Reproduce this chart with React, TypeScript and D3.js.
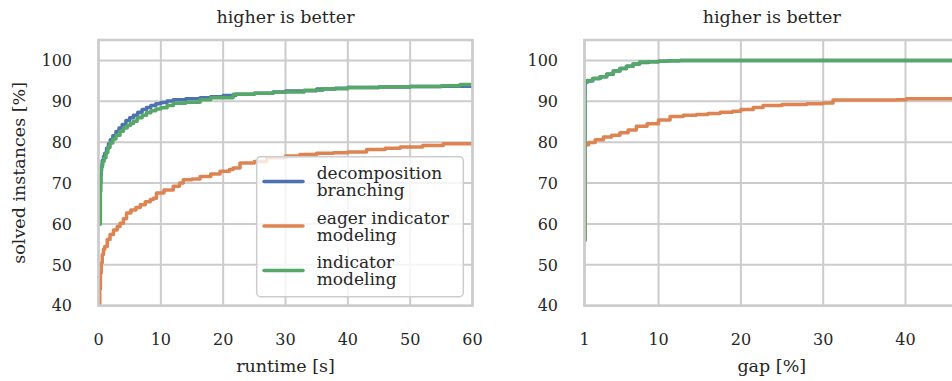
import React from "react";
import * as d3 from "d3";

// ---------- data ----------
const runtimeTicks = [0, 10, 20, 30, 40, 50, 60];
const gapTicks = [1, 10, 20, 30, 40];
const yTicks = [40, 50, 60, 70, 80, 90, 100];

// left panel: runtime [s] vs solved instances [%]
const rtDecompX = [0.15, 0.25, 0.35, 0.45, 0.6, 0.8, 1.0, 1.3, 1.6, 1.9, 2.3, 2.8, 3.3, 3.8, 4.4, 5.0, 5.6, 6.3, 7.0, 7.7, 8.4, 9.2, 10, 11, 12, 14, 16.3, 18, 20, 22, 25, 28, 30, 33, 35, 38, 40, 45, 50, 55, 60];
const rtDecompY = [60, 68, 72, 74, 75.5, 76.5, 77.3, 78.5, 79.6, 80.6, 81.6, 82.6, 83.5, 84.3, 85.3, 86.0, 86.6, 87.3, 88.0, 88.5, 89.0, 89.4, 89.7, 90.1, 90.4, 90.6, 90.9, 91.1, 91.4, 91.7, 92.0, 92.3, 92.5, 92.6, 93.0, 93.2, 93.4, 93.5, 93.6, 93.7, 93.8];

const rtEagerX = [0.1, 0.2, 0.3, 0.45, 0.6, 0.8, 1.0, 1.4, 1.85, 2.4, 3.0, 3.45, 4.0, 4.5, 5.2, 6.0, 6.7, 7.5, 8.3, 8.8, 9.3, 10.5, 12, 13.0, 13.6, 15, 16.3, 18, 19.5, 21, 21.6, 22.7, 25, 27, 30, 32.3, 35, 37.7, 40, 43, 46, 48.4, 52, 55.3, 60];
const rtEagerY = [40, 44, 48, 50.5, 52.5, 53.8, 54.5, 56.2, 57.4, 58.5, 59.4, 60.2, 61.3, 62.7, 63.4, 64.0, 64.7, 65.4, 66.0, 66.3, 67.6, 68.3, 69.2, 70.0, 70.8, 71.0, 71.6, 72.2, 72.9, 73.3, 73.7, 74.9, 75.3, 76.2, 76.6, 77.0, 77.3, 77.4, 77.6, 78.2, 78.5, 78.8, 79.2, 79.6, 79.6];

const rtIndX = [0.2, 0.3, 0.4, 0.5, 0.7, 0.9, 1.2, 1.5, 1.85, 2.3, 2.8, 3.45, 4.0, 4.6, 5.1, 5.6, 6.2, 7.0, 7.7, 8.4, 9.2, 10, 11, 12, 14, 16.3, 18, 21.6, 25, 28, 30, 33, 36, 40, 45, 50, 55, 58, 60];
const rtIndY = [60, 70, 73, 74.5, 75.3, 76.2, 77.5, 78.7, 79.8, 80.8, 81.7, 82.7, 83.5, 84.1, 84.6, 85.1, 86.0, 86.6, 87.2, 87.7, 88.1, 88.4, 89.0, 89.5, 89.8, 90.4, 90.9, 91.7, 92.0, 92.2, 92.3, 92.7, 93.1, 93.4, 93.5, 93.6, 93.8, 94.1, 94.2];

// right panel: gap [%] vs solved instances [%]
const gapDecompX = [1, 1.05, 1.3, 2.0, 2.9, 3.7, 4.5, 5.3, 6.1, 6.9, 7.7, 8.8, 10, 11.2, 12.6, 20, 30, 40, 46.5];
const gapDecompY = [56, 94.6, 95.0, 95.6, 96.0, 96.6, 97.4, 98.0, 98.6, 99.1, 99.5, 99.7, 99.8, 99.9, 100, 100, 100, 100, 100];

const gapEagerX = [1, 1.05, 1.5, 2.3, 3.3, 4.3, 5.3, 6.3, 7.3, 8.6, 10, 11.4, 13, 14.6, 16, 17.5, 19, 20, 21.5, 22.7, 25, 28, 30, 31.2, 35, 38.9, 40.1, 46.5];
const gapEagerY = [56, 79.4, 79.9, 80.6, 81.3, 81.7, 82.3, 83.0, 83.9, 84.5, 85.4, 86.3, 86.6, 86.8, 87.0, 87.3, 87.6, 88.0, 88.5, 89.0, 89.2, 89.4, 89.6, 90.3, 90.3, 90.4, 90.6, 90.6];

const gapIndX = [1, 1.05, 1.3, 2.0, 2.9, 3.7, 4.5, 5.3, 6.1, 6.9, 7.7, 8.8, 10, 11.2, 12.6, 20, 30, 40, 46.5];
const gapIndY = [56, 94.7, 95.1, 95.6, 96.0, 96.7, 97.4, 98.0, 98.6, 99.1, 99.6, 99.7, 99.8, 99.9, 100, 100, 100, 100, 100];

const seriesNames = [["decomposition", "branching"], ["eager indicator", "modeling"], ["indicator", "modeling"]];
const seriesColors = ["#4C72B0", "#DD8452", "#55A868"];

// ---------- layout ----------
const W = 952;
const H = 381;
const top = 40;
const bottom = 305.7;
const FONT = "'DejaVu Serif', serif";
const TEXT = "#262626";
const GRID = "#cccccc";

type Panel = {
  x: d3.ScaleLinear<number, number>;
  xTicks: number[];
  series: [number[], number[]][];
  xLabel: string;
  showYLabel: boolean;
  legend: boolean;
  id: string;
};

const yScale = d3.scaleLinear().domain([40, 105]).range([bottom, top]);

const panels: Panel[] = [
  {
    id: "a",
    x: d3.scaleLinear().domain([0, 60]).range([98.5, 472.5]),
    xTicks: runtimeTicks,
    series: [[rtDecompX, rtDecompY], [rtEagerX, rtEagerY], [rtIndX, rtIndY]],
    xLabel: "runtime [s]",
    showYLabel: true,
    legend: true,
  },
  {
    id: "b",
    x: d3.scaleLinear().domain([1, 46.5]).range([584.5, 959]),
    xTicks: gapTicks,
    series: [[gapDecompX, gapDecompY], [gapEagerX, gapEagerY], [gapIndX, gapIndY]],
    xLabel: "gap [%]",
    showYLabel: false,
    legend: false,
  },
];

function PanelView({ p }: { p: Panel }) {
  const [x0, x1] = p.x.range();
  const cx = (x0 + x1) / 2;
  const line = d3
    .line<[number, number]>()
    .x((d) => p.x(d[0]))
    .y((d) => yScale(d[1]))
    .curve(d3.curveStepAfter);
  return (
    <g>
      <defs>
        <clipPath id={"clip" + p.id}>
          <rect x={x0} y={top} width={x1 - x0} height={bottom - top} />
        </clipPath>
      </defs>
      {p.xTicks.map((t) => (
        <line key={"gx" + t} x1={p.x(t)} x2={p.x(t)} y1={top} y2={bottom} stroke={GRID} strokeWidth={2} />
      ))}
      {yTicks.map((t) => (
        <line key={"gy" + t} x1={x0} x2={x1} y1={yScale(t)} y2={yScale(t)} stroke={GRID} strokeWidth={2} />
      ))}
      <g clipPath={`url(#clip${p.id})`}>
        {p.series.map(([xs, ys], i) => (
          <path
            key={i}
            d={line(xs.map((v, k) => [v, ys[k]] as [number, number])) || ""}
            fill="none"
            stroke={seriesColors[i]}
            strokeWidth={3.5}
            strokeLinejoin="round"
            strokeLinecap="round"
          />
        ))}
      </g>
      <rect x={x0} y={top} width={x1 - x0} height={bottom - top} fill="none" stroke={GRID} strokeWidth={2.6} />
      {p.xTicks.map((t) => (
        <text key={"tx" + t} x={p.x(t)} y={345} textAnchor="middle" fontSize={16} fill={TEXT} fontFamily={FONT}>
          {t}
        </text>
      ))}
      {yTicks.map((t) => (
        <text key={"ty" + t} x={x0 - 26.5} y={yScale(t)} dy="0.36em" textAnchor="end" fontSize={16} fill={TEXT} fontFamily={FONT}>
          {t}
        </text>
      ))}
      <text x={cx} y={23} textAnchor="middle" fontSize={17.5} fill={TEXT} fontFamily={FONT}>
        higher is better
      </text>
      <text x={cx} y={372} textAnchor="middle" fontSize={17.5} fill={TEXT} fontFamily={FONT}>
        {p.xLabel}
      </text>
      {p.showYLabel && (
        <text
          transform={`translate(19,${(top + bottom) / 2}) rotate(-90)`}
          textAnchor="middle"
          dy="0.35em"
          fontSize={17.5}
          fill={TEXT}
          fontFamily={FONT}
        >
          solved instances [%]
        </text>
      )}
      {p.legend && (
        <g>
          <rect x={256.7} y={156.7} width={206.6} height={140} rx={4} fill="#ffffff" fillOpacity={0.8} stroke={GRID} strokeWidth={1.5} />
          {seriesNames.map((names, i) => {
            const yc = 181.5 + i * 44.5;
            return (
              <g key={i}>
                <line x1={264} x2={303} y1={yc} y2={yc} stroke={seriesColors[i]} strokeWidth={3.5} strokeLinecap="round" />
                <text x={316.7} y={yc - 8.5 + 6} fontSize={17} fill={TEXT} fontFamily={FONT}>
                  <tspan x={316.7}>{names[0]}</tspan>
                  <tspan x={316.7} dy={17}>{names[1]}</tspan>
                </text>
              </g>
            );
          })}
        </g>
      )}
    </g>
  );
}

export default function App() {
  return (
    <svg width={W} height={H} style={{ position: "absolute", left: 0, top: 0, background: "#fff" }}>
      <rect x={0} y={0} width={W} height={H} fill="#fff" />
      {panels.map((p) => (
        <PanelView key={p.id} p={p} />
      ))}
    </svg>
  );
}
